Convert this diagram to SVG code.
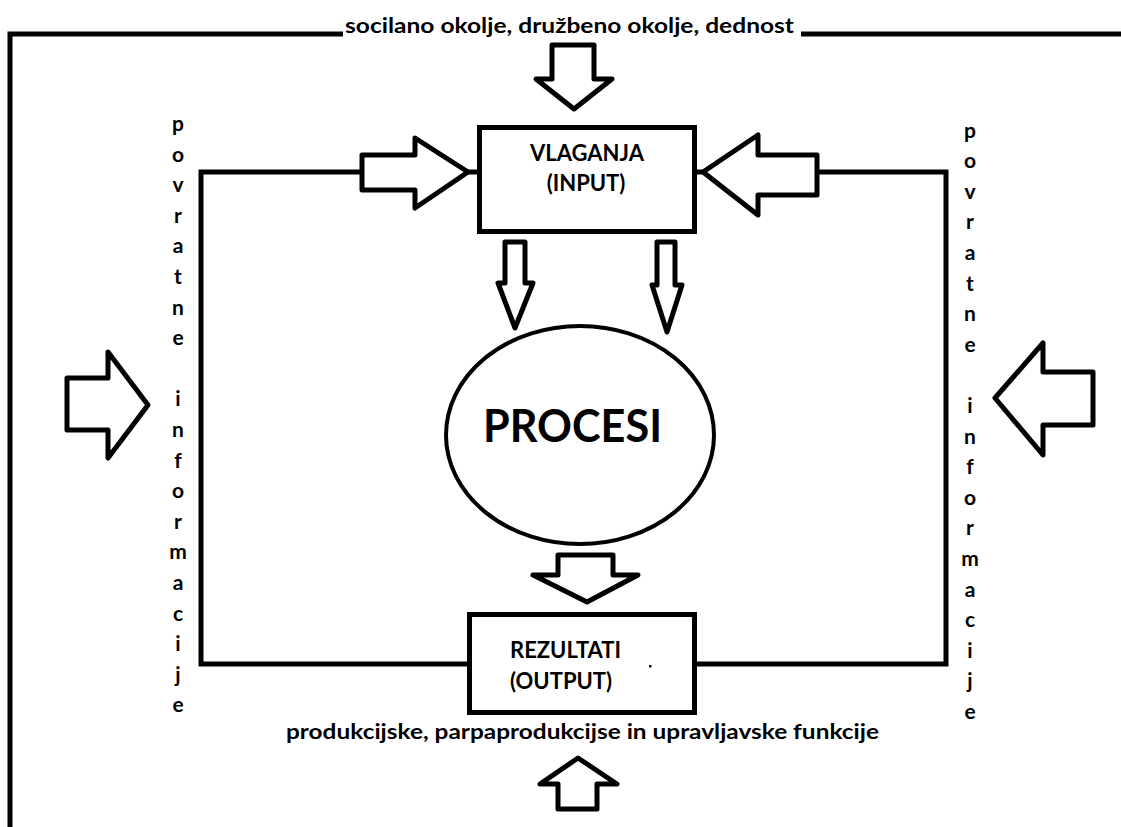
<svg xmlns="http://www.w3.org/2000/svg" width="1121" height="827" viewBox="0 0 1121 827">
  <style>
    .line { fill: none; stroke: #000; stroke-width: 5; stroke-linejoin: miter; }
    .arrow { fill: #fff; stroke: #000; stroke-width: 5; stroke-linejoin: round; }
    .box { fill: #fff; stroke: #000; stroke-width: 5; }
    .txt { font-family: Lato, "Liberation Sans", Arial, sans-serif; font-weight: bold; fill: #000; }
    .col { font-size: 21px; text-anchor: middle; }
  </style>
  <rect width="1121" height="827" fill="#fff"/>

  <!-- environment frame -->
  <g id="frame">
    <path class="line" d="M343,34 H10 V827"/>
    <path class="line" d="M801,34 H1121"/>
    <text class="txt" x="345" y="33" font-size="20" textLength="449" lengthAdjust="spacingAndGlyphs">socilano okolje, družbeno okolje, dednost</text>
  </g>

  <!-- connectors and feedback loops -->
  <g id="connectors">
    <path class="line" d="M362,172 H201 V664 H469"/>
    <path class="line" d="M815,172 H946 V664 H695"/>
    <path class="line" d="M445,172 H480"/>
    <path class="line" d="M694,172 H718"/>
    <polygon class="arrow" points="552,45 594,45 594,79 612,79 574,109 536,79 552,79"/>
    <polygon class="arrow" points="362,155 415,155 415,138 468,172 415,208 415,190 362,190"/>
    <polygon class="arrow" points="703,172 758,135 758,155 817,155 817,195 758,195 758,215"/>
    <polygon class="arrow" points="505,242 525,242 525,283 533,283 515,328 498,283 505,283"/>
    <polygon class="arrow" points="657,242 675,242 675,285 682,285 667,332 652,285 657,285"/>
    <polygon class="arrow" points="558,555 613,555 613,575 638,575 587,602 533,575 558,575"/>
    <polygon class="arrow" points="578,758 617,784 597,784 597,809 558,809 558,784 540,784"/>
    <polygon class="arrow" points="67,378 108,378 108,352 148,405 108,458 108,430 67,430"/>
    <polygon class="arrow" points="995,398 1043,343 1043,372 1093,372 1093,425 1043,425 1043,455"/>
  </g>

  <!-- input node -->
  <g id="vlaganja">
    <rect class="box" x="479.5" y="127.5" width="215" height="104"/>
    <text class="txt" x="587" y="161" font-size="22" text-anchor="middle">VLAGANJA</text>
    <text class="txt" x="586" y="191" font-size="22" text-anchor="middle">(INPUT)</text>
  </g>

  <!-- process node -->
  <g id="procesi">
    <ellipse cx="580" cy="435" rx="134" ry="109" fill="#fff" stroke="#000" stroke-width="4"/>
    <text class="txt" x="483" y="442" font-size="46" textLength="179" lengthAdjust="spacingAndGlyphs">PROCESI</text>
  </g>

  <!-- output node -->
  <g id="rezultati">
    <rect class="box" x="469.5" y="614.5" width="225" height="98"/>
    <text class="txt" x="510" y="658" font-size="22">REZULTATI</text>
    <text class="txt" x="510" y="689" font-size="22">(OUTPUT)</text>
    <rect x="649" y="665" width="2.5" height="2.5" fill="#000"/>
  </g>

  <!-- functions label -->
  <g id="funkcije">
    <text class="txt" x="286" y="739" font-size="20" textLength="593" lengthAdjust="spacingAndGlyphs">produkcijske, parpaprodukcijse in upravljavske funkcije</text>
  </g>

  <!-- feedback labels, one letter per line -->
  <g id="povratne-levo" class="txt col">
    <text x="178" y="131">p</text>
    <text x="178" y="161.6">o</text>
    <text x="178" y="192.2">v</text>
    <text x="178" y="222.8">r</text>
    <text x="178" y="253.4">a</text>
    <text x="178" y="284">t</text>
    <text x="178" y="314.6">n</text>
    <text x="178" y="345.2">e</text>
    <text x="178" y="406.4">i</text>
    <text x="178" y="437">n</text>
    <text x="178" y="467.6">f</text>
    <text x="178" y="498.2">o</text>
    <text x="178" y="528.8">r</text>
    <text x="178" y="559.4">m</text>
    <text x="178" y="590">a</text>
    <text x="178" y="620.6">c</text>
    <text x="178" y="651.2">i</text>
    <text x="178" y="681.8">j</text>
    <text x="178" y="712.4">e</text>
  </g>
  <g id="povratne-desno" class="txt col">
    <text x="970" y="137.5">p</text>
    <text x="970" y="168.1">o</text>
    <text x="970" y="198.7">v</text>
    <text x="970" y="229.3">r</text>
    <text x="970" y="259.9">a</text>
    <text x="970" y="290.5">t</text>
    <text x="970" y="321.1">n</text>
    <text x="970" y="351.7">e</text>
    <text x="970" y="412.9">i</text>
    <text x="970" y="443.5">n</text>
    <text x="970" y="474.1">f</text>
    <text x="970" y="504.7">o</text>
    <text x="970" y="535.3">r</text>
    <text x="970" y="565.9">m</text>
    <text x="970" y="596.5">a</text>
    <text x="970" y="627.1">c</text>
    <text x="970" y="657.7">i</text>
    <text x="970" y="688.3">j</text>
    <text x="970" y="718.9">e</text>
  </g>
</svg>
